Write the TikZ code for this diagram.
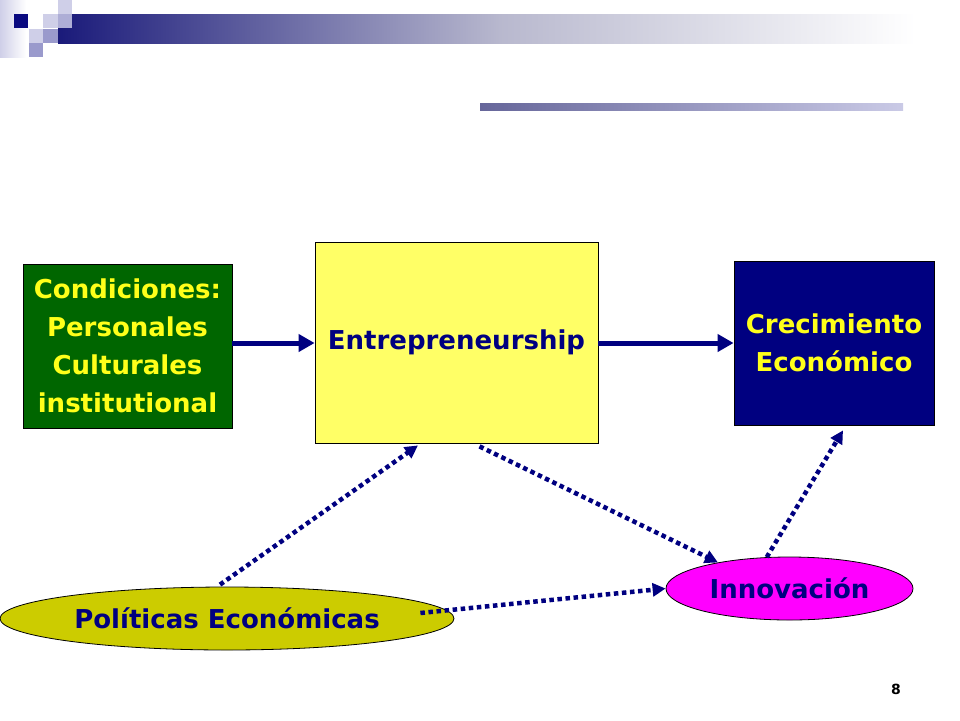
\documentclass[tikz,border=0pt]{standalone}
\usepackage{fontspec}
\setmainfont{DejaVu Sans}
\usetikzlibrary{arrows.meta,shapes.geometric,calc}
\definecolor{navy}{HTML}{000080}
\definecolor{dgreen}{HTML}{006600}
\definecolor{ytext}{HTML}{FFFF1A}
\definecolor{lyellow}{HTML}{FFFF66}
\definecolor{magen}{HTML}{FF00FF}
\definecolor{olive}{HTML}{CCCC00}
\definecolor{sqdark}{HTML}{0A0A80}
\definecolor{sqlight}{HTML}{CFCFE8}
\definecolor{sqmed}{HTML}{9A9ACC}
\definecolor{barA}{HTML}{1A1A7A}
\definecolor{barB}{HTML}{B8B8CE}
\definecolor{barC}{HTML}{66669A}
\definecolor{barD}{HTML}{CACAE6}
\begin{document}
\begin{tikzpicture}[x=1pt,y=-1pt,
  txt/.style={font=\fontsize{26}{38}\selectfont\bfseries, align=center},
  boxnode/.style={rectangle, draw=black, line width=0.8pt, inner sep=0pt, txt},
  ellnode/.style={ellipse, draw=black, line width=0.8pt, inner sep=0pt, txt, text=navy},
  solidarrow/.style={draw=navy, line width=5pt, -{Triangle[length=16pt,width=17pt]}},
  dotarrow/.style={draw=navy, line width=4.5pt, dash pattern=on 4.5pt off 3.6pt, -{Triangle[length=13pt,width=13pt]}}
]
\useasboundingbox (0,0) rectangle (960,720);
% decoration top-left
\shade[left color=sqlight, right color=white] (0,0) rectangle (26,57);
\shade[left color=barA, right color=barB] (58,14) rectangle (500,43);
\shade[left color=barB, right color=white] (499,14) rectangle (915,43);
\fill[sqdark] (14,14) rectangle (28,28);
\fill[sqlight] (58,0) rectangle (72,14);
\fill[sqlight] (43,14) rectangle (58,28);
\fill[sqmed!80!white] (58,14) rectangle (72,28);
\fill[sqlight] (29,29) rectangle (43,43);
\fill[sqmed] (43,29) rectangle (58,43);
\fill[sqmed] (29,43) rectangle (43,57);
% second bar
\shade[left color=barC, right color=barD] (480,103) rectangle (903,110);

% nodes
\node[boxnode, fill=dgreen, text=ytext, minimum width=209pt, minimum height=164pt] (cond) at (127.5,346)
  {Condiciones:\\Personales\\Culturales\\institutional};
\node[boxnode, fill=lyellow, text=navy, minimum width=283pt, minimum height=201pt] (entre) at (456.5,342.5)
  {Entrepreneurship};
\node[boxnode, fill=navy, text=ytext, minimum width=200pt, minimum height=164pt] (crec) at (834,343)
  {Crecimiento\\Económico};
\node[ellnode, fill=magen, minimum width=247pt, minimum height=63pt] (innov) at (789.5,588.5)
  {Innovación};
\node[ellnode, fill=olive, minimum width=454pt, minimum height=63pt] (pol) at (227,618.5)
  {Políticas Económicas};
\node[font=\fontsize{14}{16}\selectfont\bfseries] (num) at (896,689) {8};

% connectors
\draw[solidarrow] (cond.east |- 0,343) -- (entre.west |- 0,343);
\draw[solidarrow] (entre.east |- crec.west) -- (crec.west);
\draw[dotarrow] ([xshift=-7pt,yshift=2pt]pol.north) -- ([xshift=-38.5pt,yshift=-2pt]entre.south);
\draw[dotarrow] ([xshift=23pt,yshift=-3pt]entre.south) -- (innov.160);
\draw[dotarrow] ([xshift=-34pt,yshift=5.5pt]pol.east) -- (innov.west);
\draw[dotarrow] (innov.126) -- ([xshift=9pt,yshift=-5pt]crec.south);
\end{tikzpicture}
\end{document}
